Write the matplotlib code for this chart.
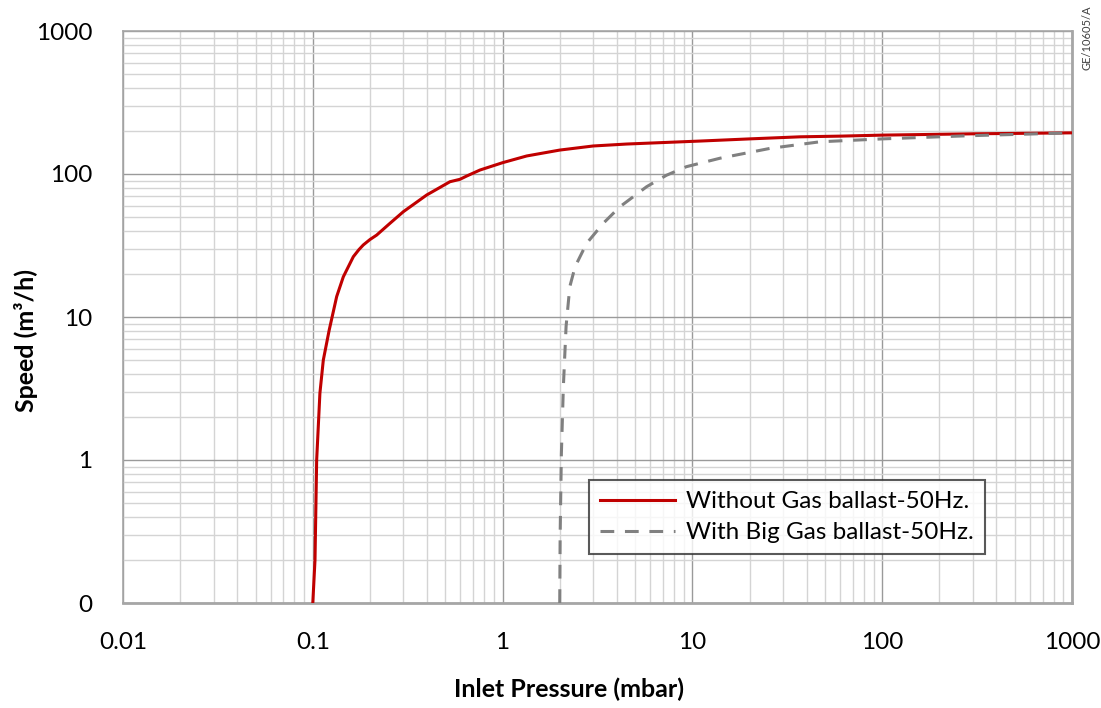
import matplotlib
matplotlib.use("Agg")
import matplotlib.pyplot as plt
from matplotlib.ticker import FixedLocator, LogLocator, NullFormatter

plt.rcParams["font.family"] = ["Lato", "DejaVu Sans"]

# pump speed curves (x: mbar, y: m3/h)
no_ballast_p = [0.1, 0.1027, 0.1048, 0.109, 0.1136, 0.122, 0.1336, 0.1448, 0.1635,
                0.175, 0.1845, 0.20, 0.217, 0.255, 0.30, 0.398, 0.528, 0.596, 0.647,
                0.76, 1.0, 1.34, 2.0, 3.0, 4.5, 6.75, 11, 20, 37, 60, 100, 300, 1000]
no_ballast_s = [0.1, 0.2, 1.0, 2.93, 5.0, 8.1, 13.9, 19.1, 26.4,
                29.6, 31.9, 34.8, 37.4, 45.2, 54.5, 71.3, 88.3, 91.8, 96.8,
                106.6, 120, 133.7, 147, 157, 162, 165.6, 170, 176, 182, 184, 187, 191, 194]

ballast_p = [2.0, 2.01, 2.04, 2.09, 2.16, 2.26, 2.41, 2.77, 3.39, 4.15, 5.74,
             7.3, 9.3, 14, 25.6, 47, 100, 279, 1000]
ballast_s = [0.1, 0.3, 1.1, 3.26, 8.6, 16.3, 22.5, 32.7, 45.2, 59, 81.5,
             98, 112.5, 129, 151, 168, 176, 185, 194]

x_ticks = [0.01, 0.1, 1, 10, 100, 1000]
x_labels = ["0.01", "0.1", "1", "10", "100", "1000"]
y_ticks = [0.1, 1, 10, 100, 1000]
y_labels = ["0", "1", "10", "100", "1000"]

fig = plt.figure(figsize=(11.01, 7.08), dpi=100)
ax = fig.add_axes([123 / 1101, 1 - 603 / 708, (1072 - 123) / 1101, (603 - 31) / 708])

ax.plot(no_ballast_p, no_ballast_s, color="#C00000", lw=2.2,
        label="Without Gas ballast-50Hz.", zorder=3)
ax.plot(ballast_p, ballast_s, color="#808080", lw=2.2, dashes=(4.5, 3.5),
        label="With Big Gas ballast-50Hz.", zorder=4)

ax.set_xscale("log")
ax.set_yscale("log")
ax.set_xlim(0.01, 1000)
ax.set_ylim(0.1, 1000)

ax.xaxis.set_major_locator(FixedLocator(x_ticks))
ax.set_xticklabels(x_labels)
ax.yaxis.set_major_locator(FixedLocator(y_ticks))
ax.set_yticklabels(y_labels)
for axis in (ax.xaxis, ax.yaxis):
    axis.set_minor_locator(LogLocator(base=10, subs=range(2, 10), numticks=20))
    axis.set_minor_formatter(NullFormatter())

ax.grid(True, which="major", color="#9a9a9a", lw=1.0, zorder=1)
ax.grid(True, which="minor", color="#d4d4d4", lw=1.0, zorder=0)
ax.set_axisbelow(True)
ax.tick_params(which="both", length=0, labelsize=17.5, colors="black")
ax.tick_params(axis="x", pad=21)
ax.tick_params(axis="y", pad=22)
for s in ax.spines.values():
    s.set_color("#a6a6a6")
    s.set_linewidth(1.2)
ax.spines["bottom"].set_linewidth(2)
ax.spines["right"].set_linewidth(2)

ax.set_xlabel("Inlet Pressure (mbar)", fontsize=18, fontweight="bold")
ax.xaxis.set_label_coords((569 - 123) / 949, (603 - 678) / 572)
ax.set_ylabel("Speed (m³/h)", fontsize=18, fontweight="bold")
ax.yaxis.set_label_coords((38 - 123) / 949, (603 - 341) / 572)

leg = ax.legend(loc="lower right", bbox_to_anchor=(985 / 1101, 1 - 554 / 708),
                bbox_transform=fig.transFigure, fontsize=17.5, frameon=True,
                fancybox=False, handlelength=3.1, handletextpad=0.45,
                borderpad=0.45, labelspacing=0.4, borderaxespad=0)
leg.get_frame().set_edgecolor("#303030")
leg.get_frame().set_linewidth(1.5)

fig.text(1087 / 1101, 1 - 38 / 708, "GE/10605/A", rotation=90, fontsize=8,
         ha="center", va="center", color="#404040")

fig.savefig("out.png", dpi=100)
